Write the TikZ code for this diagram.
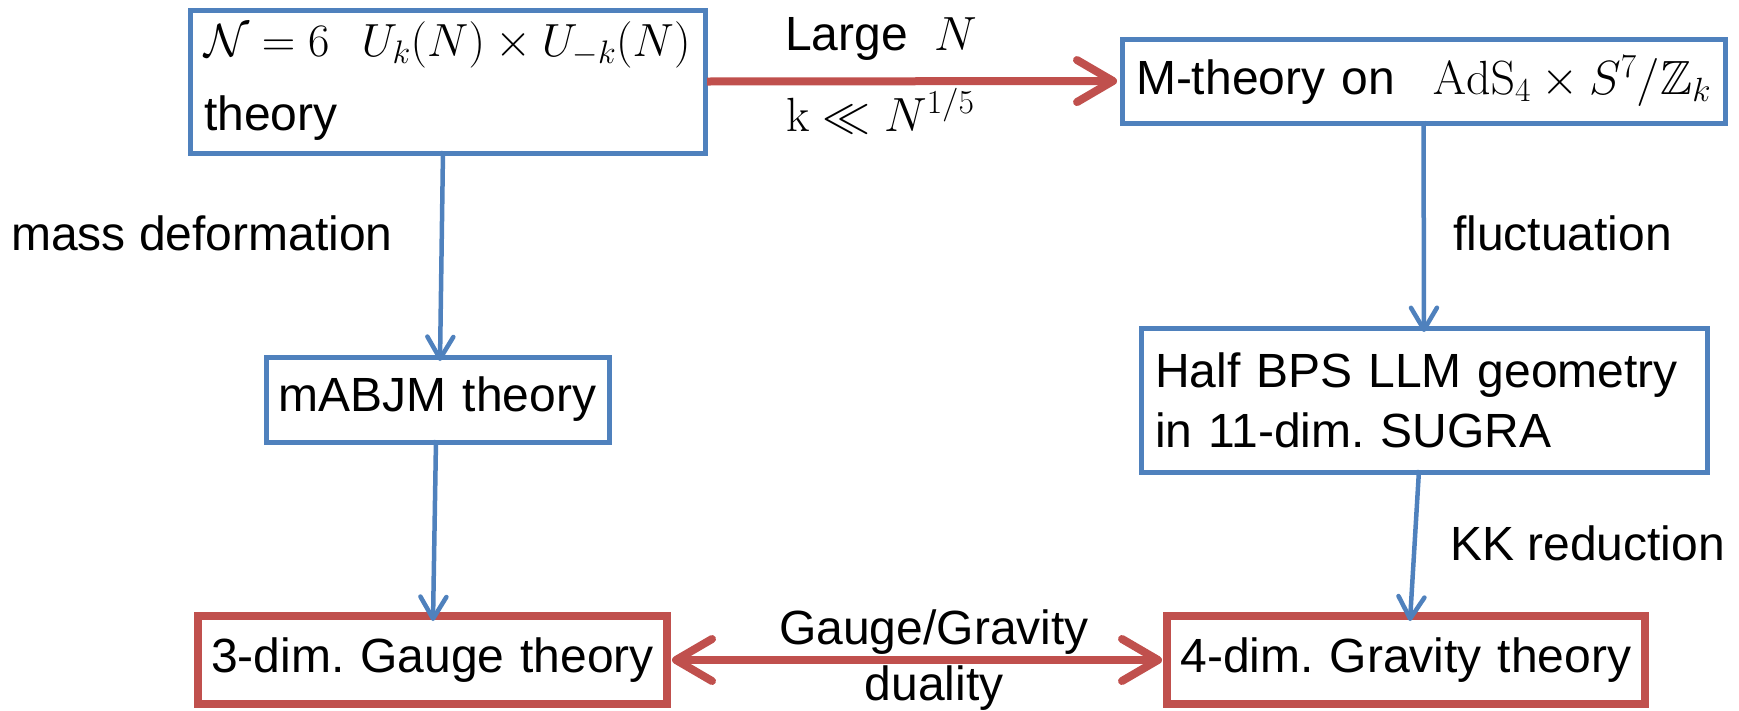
\RequirePackage{fix-cm}
\documentclass[tikz,border=0pt]{standalone}
\usepackage{amssymb}
\DeclareFontFamily{U}{msb}{}
\DeclareFontShape{U}{msb}{m}{n}{<-> msbm10}{}
\usepackage[no-math]{fontspec}
\setmainfont{Liberation Sans}
\usetikzlibrary{arrows.meta}
\definecolor{bbl}{RGB}{79,129,189}
\definecolor{rrd}{RGB}{192,80,77}
\tikzset{
  anybox/.style={anchor=north west, outer sep=0pt, inner ysep=0pt, inner xsep=14pt,
    font=\fontsize{48}{60}\selectfont},
  bbox/.style={anybox, draw=bbl, line width=5pt},
  rbox/.style={anybox, draw=rrd, line width=8pt},
  btip/.tip={Straight Barb[length=22pt,width=26pt,line cap=round,line join=round]},
  rtip/.tip={Straight Barb[length=36pt,width=42pt,line cap=round,line join=round]},
  barr/.style={draw=bbl, line width=4.5pt, -btip},
  rarr/.style={draw=rrd, line width=8pt, -rtip},
  rdarr/.style={draw=rrd, line width=8pt, rtip-rtip},
  lbl/.style={font=\fontsize{48}{58}\selectfont, inner sep=0pt}
}
\begin{document}
\frenchspacing
\begin{tikzpicture}[x=1pt,y=-1pt]
\useasboundingbox (0,0) rectangle (1739,710);
% boxes
\node[bbox, text width=487pt, minimum height=143pt, align=left,
      font=\fontsize{48}{74}\selectfont] (b1) at (190,10)
  {{\fontsize{46.5}{74}\selectfont$\mathcal{N}=6\ \ U_k(N)\times U_{-k}(N)$}\\theory};
\node[bbox, text width=575pt, minimum height=84pt, align=left] (b2) at (1122,39)
  {M-theory on\hspace{38pt}$\mathrm{AdS}_4\times S^7/\mathbb{Z}_k$};
\node[bbox, inner xsep=4pt, text width=335pt, minimum height=85pt, align=center] (b3) at (266,357)
  {mABJM theory};
\node[bbox, text width=538pt, minimum height=144pt, align=left] (b4) at (1141,328)
  {Half BPS LLM geometry\\in 11-dim. SUGRA};
\node[rbox, inner xsep=4pt, text width=461pt, minimum height=88pt, align=center] (b5) at (198,616)
  {3-dim. Gauge theory};
\node[rbox, inner xsep=4pt, text width=470pt, minimum height=88pt, align=center] (b6) at (1167,616)
  {4-dim. Gravity theory};
% labels
\node[lbl, anchor=west] (l1) at (785,39) {Large\hspace{27pt}$N$};
\node[lbl, anchor=west] (l2) at (786,111) {$\mathrm{k}\ll N^{1/5}$};
\node[lbl, anchor=west] (l3) at (11,233) {mass deformation};
\node[lbl, anchor=west] (l4) at (1453,233) {fluctuation};
\node[lbl, anchor=west] (l5) at (1450,543) {KK reduction};
\node[lbl] (l6) at (934,632) {Gauge/Gravity};
\node[lbl] (l7) at (934,688) {duality};
% connectors
\draw[rarr] ([xshift=2pt]b1.east) -- ([xshift=-5pt]b2.west);
\draw[barr] ([xshift=-4.5pt,yshift=2pt]b1.south) -- ([xshift=2.5pt,yshift=-4pt]b3.north);
\draw[barr] ([xshift=-1.5pt,yshift=2pt]b3.south) -- ([xshift=0.5pt,yshift=-5pt]b5.north);
\draw[barr] ([yshift=2pt]b2.south) -- ([yshift=-4pt]b4.north);
\draw[barr] ([xshift=-5pt,yshift=2pt]b4.south) -- ([xshift=4pt,yshift=-5pt]b6.north);
\draw[rdarr] ([xshift=5pt]b5.east) -- ([xshift=-5pt]b6.west);
\end{tikzpicture}
\end{document}
